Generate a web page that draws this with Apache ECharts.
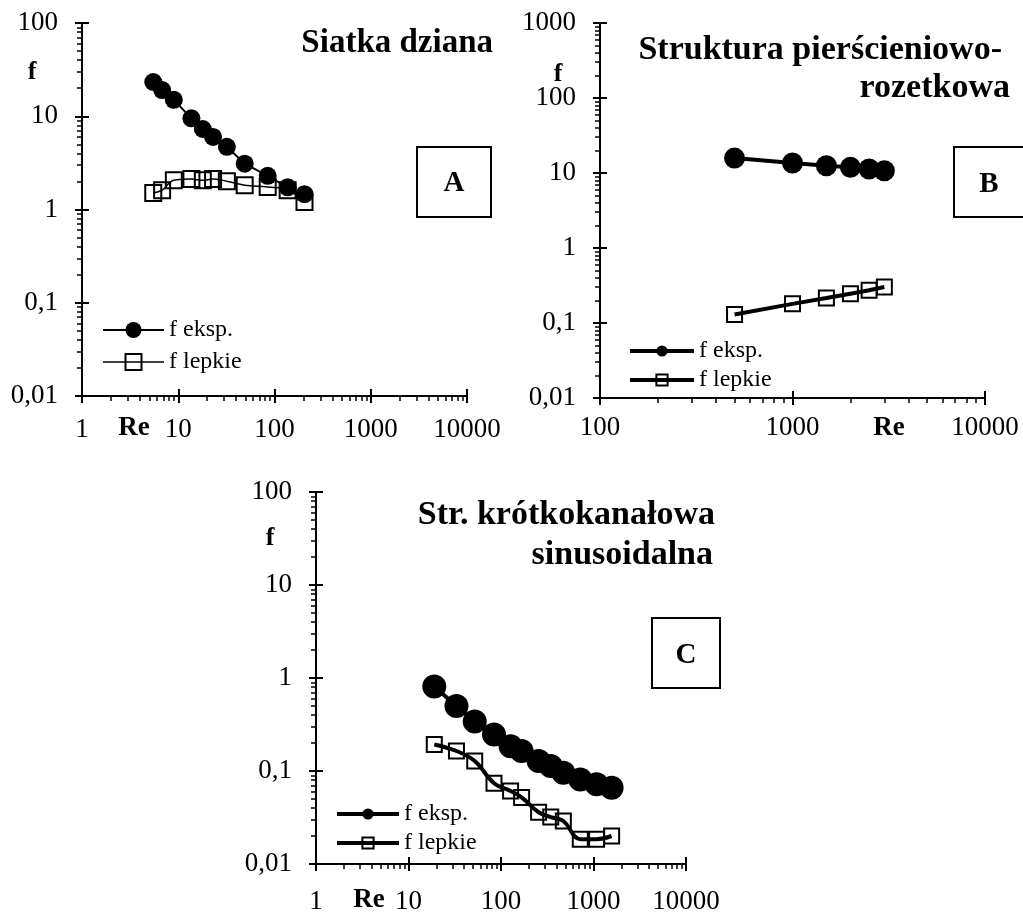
<!DOCTYPE html>
<html>
<head>
<meta charset="utf-8">
<script src="https://cdn.jsdelivr.net/npm/echarts@6/dist/echarts.min.js"></script>
<style>
  html, body { margin: 0; background: #fff; }
  #chart { width: 1023px; height: 913px; }
</style>
</head>
<body>
<div id="chart"></div>
<script>
// A - Siatka dziana
const reA = [5.5, 6.8, 9, 13.7, 18, 23, 32, 49, 85, 137, 205];
const fEkspA = [23.3, 19.1, 15.0, 9.5, 7.3, 6.0, 4.7, 3.1, 2.3, 1.73, 1.46];
const fLepkieA = [1.50, 1.61, 2.06, 2.12, 2.06, 2.12, 2.01, 1.82, 1.74, 1.61, 1.2];

// B - Struktura pierścieniowo-rozetkowa
const reB = [500, 1000, 1500, 2000, 2500, 3000];
const fEkspB = [15.8, 13.6, 12.5, 11.9, 11.3, 10.7];
const fLepkieB = [0.13, 0.18, 0.215, 0.246, 0.273, 0.302];

// C - Str. krótkokanałowa sinusoidalna
const reC = [19, 33, 52, 84, 127, 167, 255, 345, 472, 720, 1080, 1570];
const fEkspC = [0.81, 0.50, 0.34, 0.247, 0.185, 0.164, 0.128, 0.113, 0.096, 0.081, 0.072, 0.066];
const fLepkieC = [0.193, 0.164, 0.128, 0.074, 0.061, 0.052, 0.036, 0.032, 0.029, 0.0185, 0.0185, 0.020];

// axis ranges (tick labels are the powers of ten inside them)
const xRangeA = [1, 10000], yRangeA = [0.01, 100];
const xRangeB = [100, 10000], yRangeB = [0.01, 1000];
const xRangeC = [1, 10000], yRangeC = [0.01, 100];

const seriesNames = { e: 'f eksp.', l: 'f lepkie' };

const serif = 'Liberation Serif';
const black = '#000';

const fmt = v => String(+(+v).toPrecision(6)).replace('.', ',');
const pairs = (xs, ys) => xs.map((x, i) => [x, ys[i]]);

// three overlaid axes: main (line, outer major ticks, labels), inner major ticks, outer minor ticks
function logAxes(grid, range, isX, margin) {
  const minors = [];
  for (let d = range[0]; d < range[1] * 0.999; d *= 10) {
    for (let k = 2; k <= 9; k++) minors.push(+(d * k).toPrecision(6));
  }
  const base = {
    type: 'log', logBase: 10, gridIndex: grid, min: range[0], max: range[1],
    position: isX ? 'bottom' : 'left',
    splitLine: { show: false },
    axisLine: { show: false, onZero: false },
    axisLabel: { show: false },
    axisTick: { show: false }
  };
  return [
    Object.assign({}, base, {
      axisLine: { show: true, onZero: false, lineStyle: { color: black, width: 2 } },
      axisTick: { show: true, inside: false, length: 7, lineStyle: { color: black, width: 2 } },
      axisLabel: { show: true, margin: margin, color: black, fontFamily: serif, fontSize: 27, formatter: fmt }
    }),
    Object.assign({}, base, {
      axisTick: { show: true, inside: true, length: 7, lineStyle: { color: black, width: 2 } }
    }),
    Object.assign({}, base, {
      axisTick: { show: true, inside: false, length: 5, customValues: minors, lineStyle: { color: black, width: 1.5 } }
    })
  ];
}

function mkSeries(id, ax, xs, ys, kind, size, lineW, smooth) {
  return {
    name: id, type: 'line', xAxisIndex: ax, yAxisIndex: ax,
    data: pairs(xs, ys), smooth: smooth,
    symbol: kind === 'e' ? 'circle' : 'rect', symbolSize: size,
    lineStyle: { color: black, width: lineW },
    itemStyle: kind === 'e'
      ? { color: black, borderColor: black, borderWidth: 0 }
      : { color: 'rgba(0,0,0,0)', borderColor: black, borderWidth: 2 },
    emphasis: { disabled: true },
    z: kind === 'e' ? 3 : 2
  };
}

function mkLegend(ids, left, top, itemW, itemH, gap) {
  return {
    orient: 'vertical', left: left, top: top, padding: 0,
    itemWidth: itemW, itemHeight: itemH, itemGap: gap,
    data: ids, selectedMode: false,
    lineStyle: { width: 'inherit' },
    formatter: n => seriesNames[n.slice(-1)],
    textStyle: { fontFamily: serif, fontSize: 24, color: black }
  };
}

function txt(x, y, text, size, bold, align) {
  return {
    type: 'text', x: x, y: y, z: 10,
    style: {
      text: text, fill: black,
      font: (bold ? 'bold ' : '') + size + 'px "' + serif + '"',
      textAlign: align || 'center', textVerticalAlign: 'middle',
      align: align || 'center', verticalAlign: 'middle'
    }
  };
}

function box(x, y, w, h) {
  return { type: 'rect', z: 10, shape: { x: x, y: y, width: w, height: h },
           style: { fill: 'none', stroke: black, lineWidth: 2 } };
}

const option = {
  animation: false,
  backgroundColor: '#fff',
  grid: [
    { left: 82, top: 23, width: 385, height: 373, outerBoundsMode: 'none' },
    { left: 600, top: 23, width: 385, height: 375, outerBoundsMode: 'none' },
    { left: 316, top: 492, width: 370, height: 372, outerBoundsMode: 'none' }
  ],
  xAxis: [].concat(
    logAxes(0, xRangeA, true, 20),
    logAxes(1, xRangeB, true, 16),
    logAxes(2, xRangeC, true, 24)
  ),
  yAxis: [].concat(
    logAxes(0, yRangeA, false, 24),
    logAxes(1, yRangeB, false, 24),
    logAxes(2, yRangeC, false, 24)
  ),
  legend: [
    mkLegend(['A_e', 'A_l'], 102, 318, 61, 20, 8),
    mkLegend(['B_e', 'B_l'], 628, 339, 64, 14, 5),
    mkLegend(['C_e', 'C_l'], 335, 802, 62, 14, 5)
  ],
  series: [
    mkSeries('A_l', 0, reA, fLepkieA, 'l', 16, 1.5, 0.4),
    mkSeries('A_e', 0, reA, fEkspA, 'e', 18, 2, false),
    mkSeries('B_l', 3, reB, fLepkieB, 'l', 15, 4, false),
    mkSeries('B_e', 3, reB, fEkspB, 'e', 21, 4, false),
    mkSeries('C_l', 6, reC, fLepkieC, 'l', 15, 4, 0.4),
    mkSeries('C_e', 6, reC, fEkspC, 'e', 24, 4, false)
  ],
  graphic: [
    txt(493, 43, 'Siatka dziana', 33, true, 'right'),
    txt(1002, 50, 'Struktura pierścieniowo-', 34, true, 'right'),
    txt(1010, 88, 'rozetkowa', 34, true, 'right'),
    txt(715, 515, 'Str. krótkokanałowa', 34, true, 'right'),
    txt(713, 555, 'sinusoidalna', 34, true, 'right'),
    txt(32, 72, 'f', 26, true),
    txt(558, 74, 'f', 26, true),
    txt(270, 538, 'f', 26, true),
    txt(134, 428, 'Re', 27, true),
    txt(889, 428, 'Re', 27, true),
    txt(369, 900, 'Re', 27, true),
    box(417, 147, 74, 70),
    txt(454, 184, 'A', 29, true),
    box(954, 147, 80, 70),
    txt(989, 185, 'B', 29, true),
    box(652, 618, 68, 70),
    txt(686, 656, 'C', 29, true)
  ]
};

const chart = echarts.init(document.getElementById('chart'), null, { renderer: 'canvas' });
chart.setOption(option);
</script>
</body>
</html>
